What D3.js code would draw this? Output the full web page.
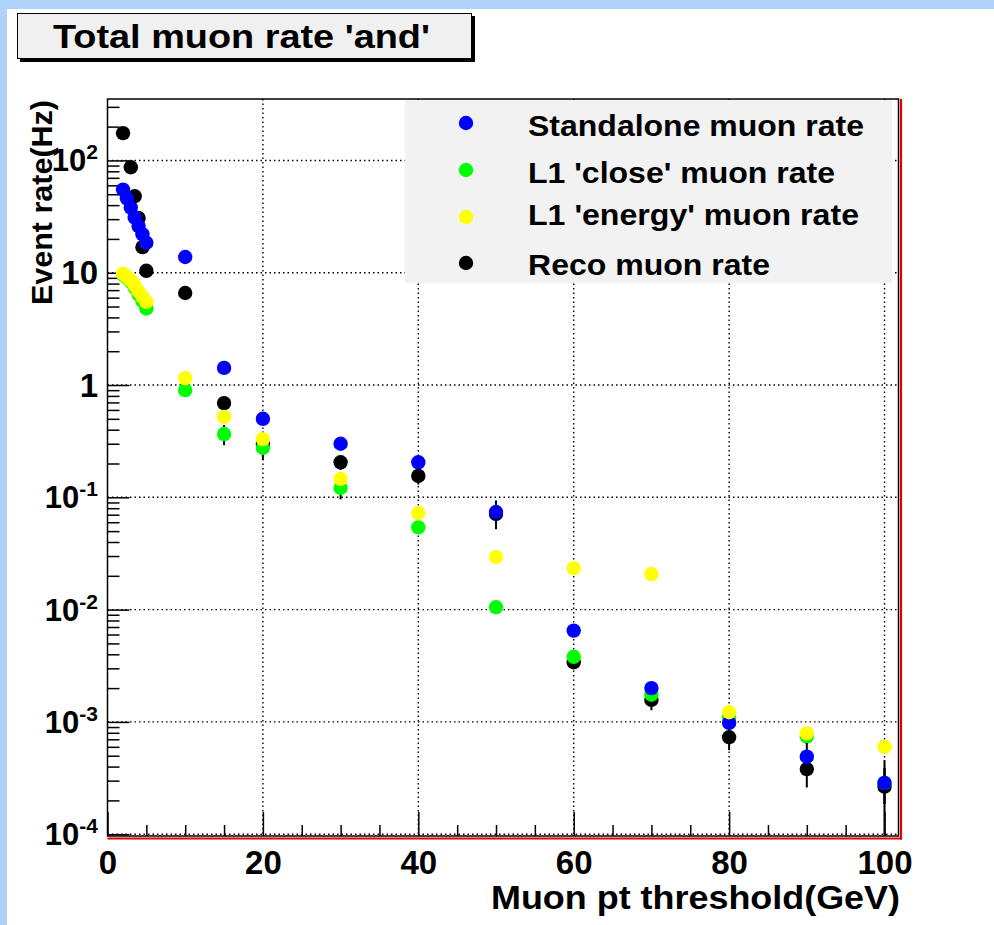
<!DOCTYPE html>
<html>
<head>
<meta charset="utf-8">
<script src="https://cdn.jsdelivr.net/npm/d3@7"></script>
<style>
  body { margin: 0; background: #fff; }
  svg { display: block; font-family: "Liberation Sans", Arial, Helvetica, sans-serif; font-weight: bold; }
</style>
</head>
<body>
<div id="chart"></div>
<script>
// data (rate in Hz vs muon pt threshold in GeV)
const standaloneX    = [2, 2.5, 3, 3.5, 4, 4.5, 5, 10, 15, 20, 30, 40, 50, 60, 70, 80, 90, 100];
const standaloneRate = [55, 46, 38, 31, 26, 22, 18.5, 13.8, 1.42, 0.50, 0.30, 0.205, 0.074, 0.0065, 0.0020, 0.00098, 0.00049, 0.000286];
const standaloneErr  = [1.5, 1.3, 1.1, 1.0, 0.9, 0.8, 0.7, 0.6, 0.12, 0.05, 0.03, 0.025, 0.02, 0.0007, 0.00025, 0.00012, 0.00016, 0.0001];

const closeX    = [2, 2.5, 3, 3.5, 4, 4.5, 5, 10, 15, 20, 30, 40, 50, 60, 70, 80, 90, 100];
const closeRate = [9.6, 9.0, 8.3, 7.4, 6.4, 5.6, 4.8, 0.90, 0.366, 0.275, 0.121, 0.054, 0.0105, 0.0038, 0.00175, 0.0011, 0.00074, 0.000286];
const closeErr  = [0.4, 0.4, 0.35, 0.3, 0.3, 0.25, 0.25, 0.05, 0.075, 0.04, 0.025, 0.006, 0.0012, 0.0004, 0.0002, 0.00015, 0.0001, 0.0001];

const energyX    = [2, 2.5, 3, 3.5, 4, 4.5, 5, 10, 15, 20, 30, 40, 50, 60, 70, 80, 90, 100];
const energyRate = [9.8, 9.2, 8.5, 7.7, 6.8, 6.1, 5.5, 1.15, 0.52, 0.33, 0.146, 0.0725, 0.0294, 0.0234, 0.0207, 0.00122, 0.00079, 0.00060];
const energyErr  = [0.4, 0.4, 0.35, 0.3, 0.3, 0.25, 0.25, 0.06, 0.04, 0.03, 0.012, 0.006, 0.002, 0.0015, 0.0015, 0.0001, 0.00008, 0.00006];

const recoX    = [2, 3, 3.5, 4, 4.5, 5, 10, 15, 20, 30, 40, 50, 60, 70, 80, 90, 100];
const recoRate = [175, 87, 48, 30.7, 16.9, 10.4, 6.6, 0.69, 0.30, 0.205, 0.155, 0.071, 0.0034, 0.00157, 0.00073, 0.00038, 0.000265];
const recoErr  = [4, 3, 2, 1.5, 1.1, 0.8, 0.5, 0.08, 0.085, 0.03, 0.025, 0.019, 0.0004, 0.0003, 0.00017, 0.00012, 0.00019];

const xMajorTicks = [0, 20, 40, 60, 80, 100];
const yDecades = [-4, -3, -2, -1, 0, 1, 2];

const legendNames = ["Standalone muon rate", "L1 'close' muon rate", "L1 'energy' muon rate", "Reco muon rate"];

//
const width = 994;
const height = 925;
const frame = {left: 107.5, right: 898.5, top: 99, bottom: 836};

const svg = d3.select("#chart")
  .append("svg")
  .attr("width", width)
  .attr("height", height);

// slide background: blue strip on top and left
svg.append("rect").attr("width", width).attr("height", height).attr("fill", "#aed2fa");
svg.append("rect").attr("x", 7).attr("y", 9).attr("width", width - 7).attr("height", height - 9).attr("fill", "#fff");

const x = d3.scaleLinear().domain([0, 101.8]).range([frame.left, frame.right]);
const y = d3.scaleLog().domain([Math.pow(10, -4.016), Math.pow(10, 2.547)]).range([frame.bottom, frame.top]);

svg.append("clipPath").attr("id", "clip")
  .append("rect")
  .attr("x", frame.left).attr("y", frame.top)
  .attr("width", frame.right - frame.left).attr("height", frame.bottom - frame.top);

// dotted grid
const grid = svg.append("g").attr("stroke", "#000").attr("stroke-width", 1.4).attr("stroke-dasharray", "1.5,3");
grid.selectAll(".gx")
  .data(xMajorTicks.filter(d => d > 0))
  .join("line")
  .attr("x1", d => x(d)).attr("x2", d => x(d))
  .attr("y1", frame.top).attr("y2", frame.bottom);
grid.selectAll(".gy")
  .data(yDecades)
  .join("line")
  .attr("x1", frame.left).attr("x2", frame.right)
  .attr("y1", d => y(Math.pow(10, d))).attr("y2", d => y(Math.pow(10, d)));

// x axis (ticks pointing up into the frame)
const xTicks = d3.range(0, 101, 5);
const xAxis = svg.append("g")
  .attr("transform", `translate(0,${frame.bottom})`)
  .call(d3.axisBottom(x)
    .tickValues(xTicks)
    .tickSize(-11)
    .tickPadding(15)
    .tickFormat(d => xMajorTicks.includes(d) ? d : ""));
xAxis.select(".domain").remove();
xAxis.selectAll(".tick line")
  .attr("stroke", "#000").attr("stroke-width", 1.5)
  .attr("y2", d => xMajorTicks.includes(d) ? -24 : -11);
xAxis.selectAll(".tick text")
  .attr("fill", "#000")
  .style("font-size", "33px")
  .style("font-weight", "bold")
  .style("font-family", "'Liberation Sans', Arial, sans-serif");

// y axis: decade + minor ticks
const yTicks = [];
yDecades.forEach(p => {
  for (let k = 1; k <= 9; k++) {
    const v = k * Math.pow(10, p);
    if (v <= y.domain()[1]) yTicks.push(v);
  }
});
const yAxis = svg.append("g")
  .attr("transform", `translate(${frame.left},0)`)
  .call(d3.axisLeft(y).tickValues(yTicks).tickSize(-12).tickFormat(() => ""));
yAxis.select(".domain").remove();
const isDecade = v => Math.abs(Math.log10(v) - Math.round(Math.log10(v))) < 1e-9;
yAxis.selectAll(".tick line")
  .attr("stroke", "#000").attr("stroke-width", 1.5)
  .attr("x2", d => isDecade(d) ? 22 : 12);

// y tick labels, ROOT style: "1", "10", then 10^n
const yLabels = svg.append("g").attr("text-anchor", "end").attr("fill", "#000");
yDecades.forEach(p => {
  const ty = y(Math.pow(10, p));
  const t = yLabels.append("text").attr("x", 98);
  if (p === 0 || p === 1) {
    t.attr("y", ty + 11.5).style("font-size", "33px").text(p === 0 ? "1" : "10");
  } else {
    t.attr("y", ty + 11).style("font-size", "31px");
    t.append("tspan").text("10");
    t.append("tspan").attr("dy", -12).style("font-size", "21px").text(p);
  }
});

// frame
svg.append("rect")
  .attr("x", frame.left).attr("y", frame.top)
  .attr("width", frame.right - frame.left).attr("height", frame.bottom - frame.top)
  .attr("fill", "none").attr("stroke", "#000").attr("stroke-width", 1.5);
svg.append("line")
  .attr("x1", frame.right + 2.5).attr("x2", frame.right + 2.5)
  .attr("y1", frame.top).attr("y2", frame.bottom + 3.5)
  .attr("stroke", "#e00000").attr("stroke-width", 2.2);
svg.append("line")
  .attr("x1", frame.left).attr("x2", frame.right + 3.5)
  .attr("y1", frame.bottom + 2.5).attr("y2", frame.bottom + 2.5)
  .attr("stroke", "#e00000").attr("stroke-width", 2.2);

// series drawn in ROOT order (later ones on top)
const series = [
  {xs: recoX, ys: recoRate, es: recoErr, color: "#000000"},
  {xs: closeX, ys: closeRate, es: closeErr, color: "#00ff00"},
  {xs: standaloneX, ys: standaloneRate, es: standaloneErr, color: "#0000ff"},
  {xs: energyX, ys: energyRate, es: energyErr, color: "#ffff00"}
];

const plot = svg.append("g").attr("clip-path", "url(#clip)");
series.forEach(s => {
  const pts = s.xs.map((xv, i) => ({x: xv, y: s.ys[i], e: s.es[i]}));
  const g = plot.append("g");
  g.selectAll("line")
    .data(pts)
    .join("line")
    .attr("x1", d => x(d.x)).attr("x2", d => x(d.x))
    .attr("y1", d => y(Math.max(d.y - d.e, 1e-6)))
    .attr("y2", d => y(d.y + d.e))
    .attr("stroke", "#000").attr("stroke-width", 2);
  g.selectAll("circle")
    .data(pts)
    .join("circle")
    .attr("cx", d => x(d.x))
    .attr("cy", d => y(d.y))
    .attr("r", 7.2)
    .attr("fill", s.color);
});

// legend
svg.append("rect")
  .attr("x", 405).attr("y", 100).attr("width", 487).attr("height", 183)
  .attr("fill", "#f2f2f2");
const legendColors = ["#0000ff", "#00ff00", "#ffff00", "#000000"];
const legendMarkY = [123, 170, 217, 263];
const legendTextY = [136, 183, 225, 275];
const legendWidths = [336, 307, 331, 242];
legendNames.forEach((name, i) => {
  svg.append("circle")
    .attr("cx", 466).attr("cy", legendMarkY[i]).attr("r", 7.2)
    .attr("fill", legendColors[i]);
  svg.append("text")
    .attr("x", 528).attr("y", legendTextY[i])
    .attr("textLength", legendWidths[i]).attr("lengthAdjust", "spacingAndGlyphs")
    .style("font-size", "30px")
    .text(name);
});

// axis titles
svg.append("text")
  .attr("x", 900).attr("y", 909)
  .attr("text-anchor", "end")
  .attr("textLength", 409).attr("lengthAdjust", "spacingAndGlyphs")
  .style("font-size", "34px")
  .text("Muon pt threshold(GeV)");
svg.append("text")
  .attr("transform", "translate(52,100) rotate(-90)")
  .attr("text-anchor", "end")
  .attr("textLength", 205).attr("lengthAdjust", "spacingAndGlyphs")
  .style("font-size", "30px")
  .text("Event rate(Hz)");

// title box with shadow
svg.append("rect").attr("x", 20).attr("y", 16).attr("width", 455).attr("height", 46).attr("fill", "#000");
svg.append("rect").attr("x", 17.5).attr("y", 13.5).attr("width", 454).attr("height", 45)
  .attr("fill", "#f0f0f0").attr("stroke", "#000").attr("stroke-width", 1);
svg.append("text")
  .attr("x", 241.5).attr("y", 48)
  .attr("text-anchor", "middle")
  .attr("textLength", 377).attr("lengthAdjust", "spacingAndGlyphs")
  .style("font-size", "34px")
  .text("Total muon rate 'and'");
</script>
</body>
</html>
